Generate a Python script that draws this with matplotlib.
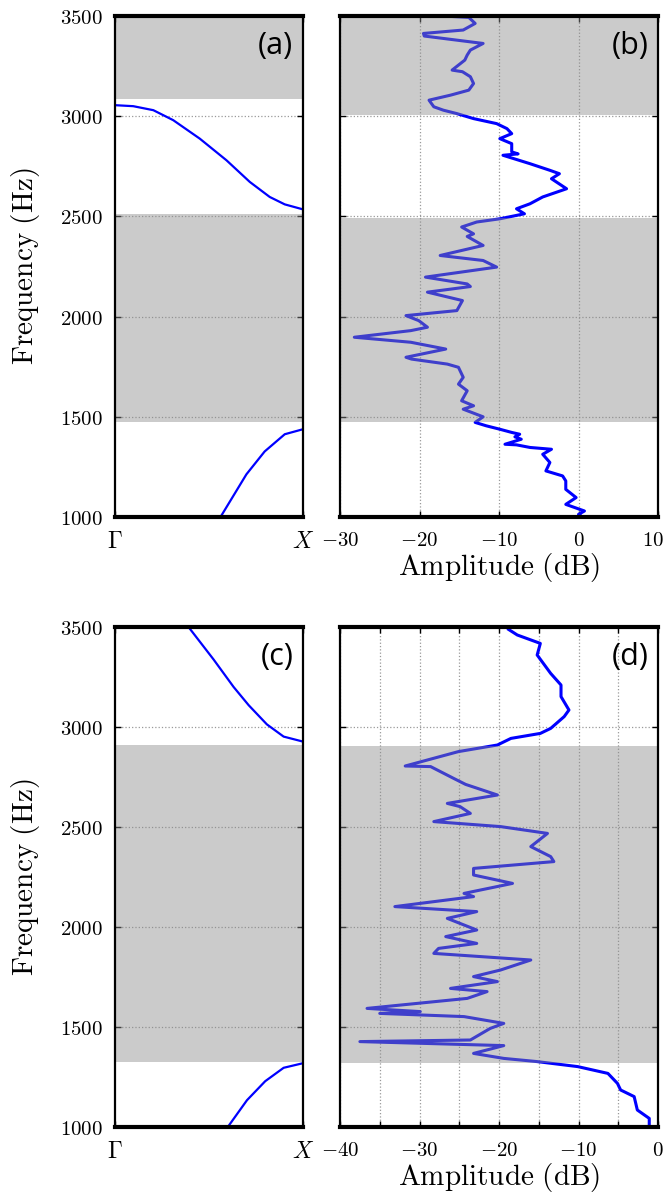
import numpy as np
import matplotlib.pyplot as plt
import matplotlib.transforms as mtransforms

plt.rcParams['mathtext.fontset'] = 'cm'

# dispersion curves, wavevector normalised Gamma(0) -> X(1)
a_k_upper = [0, 0.097, 0.204, 0.31, 0.451, 0.593, 0.717, 0.823, 0.903, 1.0]
a_f_upper = [3055, 3050, 3030, 2980, 2888, 2780, 2672, 2597, 2560, 2535]
a_k_lower = [0.558, 0.699, 0.796, 0.903, 1.0]
a_f_lower = [995, 1213, 1327, 1413, 1438]

c_k_upper = [0.391, 0.524, 0.631, 0.711, 0.808, 0.897, 1.0]
c_f_upper = [3500, 3338, 3200, 3109, 3013, 2952, 2927]
c_k_lower = [0.600, 0.702, 0.799, 0.897, 1.0]
c_f_lower = [1000, 1134, 1229, 1296, 1319]

# measured transmission (b)
b_freq = [3500, 3493, 3463, 3430, 3413, 3400, 3363, 3330, 3305, 3280, 3230, 3222,
          3197, 3163, 3130, 3105, 3080, 3047, 3030, 3013, 2988, 2963, 2938, 2913,
          2888, 2863, 2822, 2812, 2805, 2763, 2730, 2713, 2688, 2638, 2597, 2563,
          2538, 2513, 2488, 2472, 2447, 2413, 2400, 2355, 2305, 2280, 2247, 2197,
          2163, 2150, 2122, 2080, 2030, 2005, 1980, 1947, 1930, 1897, 1872, 1838,
          1797, 1788, 1763, 1747, 1697, 1663, 1630, 1580, 1555, 1538, 1500, 1472,
          1455, 1438, 1422, 1413, 1400, 1388, 1363, 1360, 1347, 1338, 1313, 1272,
          1230, 1205, 1180, 1138, 1097, 1063, 1030, 1013, 997]
b_amp = [-17.0, -13.8, -13.0, -14.5, -19.5, -19.4, -12.0, -13.6, -14.0, -14.3, -15.9, -14.6,
         -13.6, -13.2, -13.8, -16.1, -18.8, -18.2, -17.0, -15.3, -13.2, -10.3, -9.0, -8.4,
         -9.9, -8.4, -8.4, -7.6, -9.5, -6.1, -3.6, -2.4, -3.4, -1.5, -4.5, -6.1,
         -7.8, -6.8, -9.9, -12.8, -14.7, -13.2, -14.0, -12.0, -17.4, -12.0, -10.3, -19.25,
         -14.0, -13.6, -19.0, -14.6, -15.3, -21.7, -20.1, -19.0, -21.1, -28.2, -21.1, -16.7,
         -21.7, -21.0, -16.5, -15.1, -14.5, -15.1, -14.0, -14.7, -13.2, -14.5, -12.0, -13.0,
         -11.6, -9.9, -8.4, -7.4, -8.0, -7.2, -9.25, -7.8, -6.1, -3.4, -4.5, -3.6,
         -4.1, -2.0, -1.6, -1.6, -0.3, -1.6, 0.75, 0.0, 0.6]

# measured transmission (d)
d_freq = [3488, 3460, 3418, 3360, 3268, 3210, 3152, 3085, 3052, 2993, 2968, 2943,
          2910, 2877, 2805, 2802, 2743, 2713, 2660, 2618, 2602, 2568, 2527, 2502,
          2468, 2402, 2352, 2327, 2293, 2260, 2218, 2168, 2152, 2102, 2077, 2043,
          1985, 1952, 1918, 1893, 1868, 1835, 1785, 1752, 1727, 1693, 1677, 1643,
          1593, 1577, 1568, 1552, 1518, 1493, 1435, 1427, 1407, 1368, 1343, 1327,
          1302, 1268, 1218, 1185, 1152, 1085, 1043, 993]
d_amp = [-18.8, -17.7, -14.8, -15.2, -13.5, -12.2, -12.2, -11.2, -11.8, -13.5, -14.8, -18.5,
         -20.2, -25.1, -31.8, -28.6, -25.7, -24.2, -20.2, -26.5, -24.9, -23.6, -28.2, -19.8,
         -13.9, -16.0, -13.5, -13.1, -23.2, -23.2, -18.3, -24.4, -23.2, -33.1, -22.8, -26.5,
         -22.8, -26.7, -22.8, -27.6, -28.2, -16.0, -19.8, -23.2, -20.2, -26.1, -21.5, -24.0,
         -36.6, -29.9, -35.0, -24.4, -19.4, -21.1, -23.6, -37.5, -19.4, -23.2, -19.4, -15.2,
         -10.1, -6.3, -5.1, -4.7, -3.0, -2.6, -1.1, -1.1]

# band gaps (shaded)
a_gaps = [(1475, 2510), (3085, 3500)]
b_gaps = [(1475, 2490), (3005, 3500)]
c_gaps = [(1325, 2910)]
d_gaps = [(1322, 2905)]

freq_ticks = [1000, 1500, 2000, 2500, 3000, 3500]

fig = plt.figure(figsize=(6.65, 11.97), dpi=100)
W, H = 665, 1197


def make_ax(x0, y0, x1, y1):
    return fig.add_axes([x0 / W, 1 - y1 / H, (x1 - x0) / W, (y1 - y0) / H])


ax_a = make_ax(115, 16, 303, 517)
ax_b = make_ax(340, 16, 658, 517)
ax_c = make_ax(115, 627, 303, 1127)
ax_d = make_ax(340, 627, 658, 1127)


def style(ax, gaps, tag):
    ax.set_ylim(1000, 3500)
    ax.set_yticks(freq_ticks)
    for lo, hi in gaps:
        ax.axhspan(lo, hi, color=(0.55, 0.55, 0.55), alpha=0.45, lw=0, zorder=3)
    ax.grid(True, linestyle=':', color='0.6', linewidth=0.9, zorder=1)
    ax.tick_params(direction='in', top=True, right=True, length=4, width=1,
                   labelsize=15, pad=9)
    for s in ['left', 'right']:
        ax.spines[s].set_linewidth(1.6)
    for s in ['top', 'bottom']:
        ax.spines[s].set_linewidth(3)
    for s in ax.spines.values():
        s.set_zorder(5)
    ax.annotate(tag, xy=(1, 1), xycoords='axes fraction', xytext=(-7, -11),
                textcoords='offset points', ha='right', va='top',
                fontsize=22, family='Open Sans', zorder=6)


for ax, gaps, tag, ks in [(ax_a, a_gaps, '(a)', [(a_k_upper, a_f_upper), (a_k_lower, a_f_lower)]),
                          (ax_c, c_gaps, '(c)', [(c_k_upper, c_f_upper), (c_k_lower, c_f_lower)])]:
    for k, f in ks:
        ax.plot(k, f, color='#0000ff', lw=1.6, zorder=2)
    style(ax, gaps, tag)
    ax.set_xlim(0, 1)
    ax.set_xticks([0, 1])
    ax.set_xticklabels([r'$\Gamma$', r'$X$'], fontsize=17)
    ax.tick_params(axis='x', pad=9)
    ax.xaxis.grid(False)
    ax.set_yticklabels(['$%d$' % t for t in freq_ticks])
    ax.set_ylabel(r'$\mathrm{Frequency\ (Hz)}$', fontsize=21)
    ax.yaxis.set_label_coords(-0.39, 0.5)

ax_b.plot(b_amp, b_freq, color='#0000ff', lw=2.2, zorder=2)
style(ax_b, b_gaps, '(b)')
ax_b.set_xlim(-30, 10)
b_ticks = [-30, -20, -10, 0, 10]
ax_b.set_xticks(b_ticks)
ax_b.set_xticklabels(['$%d$' % t for t in b_ticks])
ax_b.set_yticklabels([])
# nudge the last label so it stays inside the figure
last = ax_b.get_xticklabels()[-1]
last.set_transform(last.get_transform() +
                   mtransforms.ScaledTranslation(-5 / 100, 0, fig.dpi_scale_trans))

ax_d.plot(d_amp, d_freq, color='#0000ff', lw=2.2, zorder=2)
style(ax_d, d_gaps, '(d)')
ax_d.set_xlim(-40, 0)
d_ticks = list(range(-40, 1, 5))
ax_d.set_xticks(d_ticks)
ax_d.set_xticklabels(['$%d$' % t if t % 10 == 0 else '' for t in d_ticks])
ax_d.set_yticklabels([])

for ax in [ax_b, ax_d]:
    ax.set_xlabel(r'$\mathrm{Amplitude\ (dB)}$', fontsize=21)
    ax.xaxis.set_label_coords(0.5, -0.068)

fig.savefig('out.png', dpi=100)
